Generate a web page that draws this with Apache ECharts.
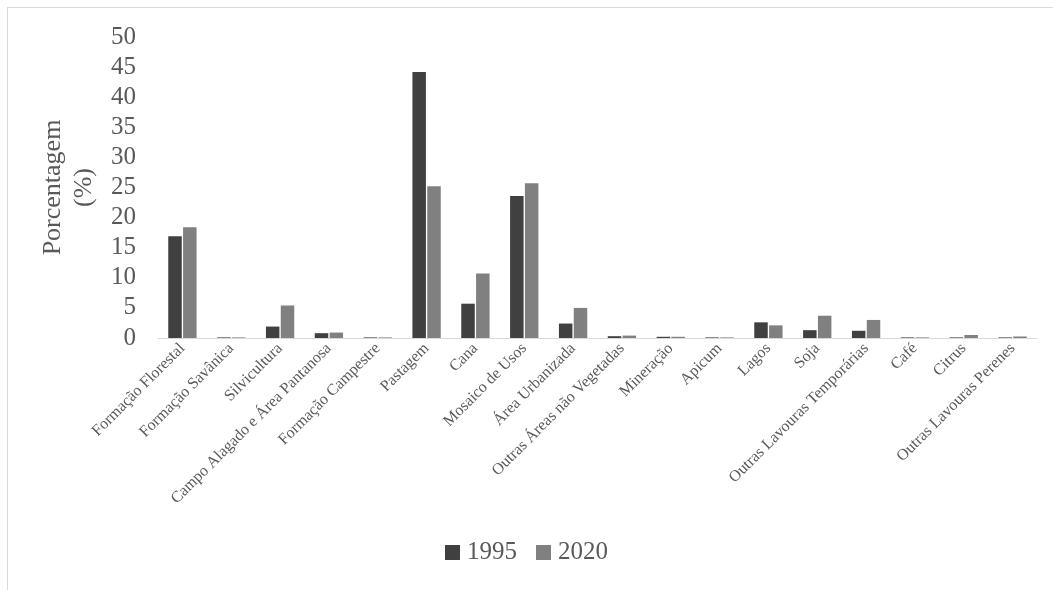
<!DOCTYPE html>
<html>
<head>
<meta charset="utf-8">
<script src="https://cdn.jsdelivr.net/npm/echarts@6/dist/echarts.min.js"></script>
<style>
  html, body { margin: 0; padding: 0; background: #fff; }
  #frame { position: absolute; left: 7px; top: 7px; width: 1060px; height: 600px; border: 1px solid #d9d9d9; box-sizing: border-box; }
  #main { width: 1053px; height: 590px; position: absolute; left: 0; top: 0; }
</style>
</head>
<body>
<div id="frame"></div>
<div id="main"></div>
<script>
// categorias (uso do solo)
var categorias = [
  'Formação Florestal', 'Formação Savânica', 'Silvicultura',
  'Campo Alagado e Área Pantanosa', 'Formação Campestre', 'Pastagem',
  'Cana', 'Mosaico de Usos', 'Área Urbanizada', 'Outras Áreas não Vegetadas',
  'Mineração', 'Apicum', 'Lagos', 'Soja', 'Outras Lavouras Temporárias',
  'Café', 'Citrus', 'Outras Lavouras Perenes'
];
// porcentagem 1995
var v1995 = [16.9, 0.1, 1.9, 0.8, 0.1, 44.2, 5.7, 23.6, 2.4, 0.3, 0.2, 0.1, 2.6, 1.3, 1.2, 0.1, 0.1, 0.1];
// porcentagem 2020
var v2020 = [18.4, 0.1, 5.4, 0.9, 0.1, 25.2, 10.7, 25.7, 5.0, 0.4, 0.2, 0.1, 2.1, 3.7, 3.0, 0.1, 0.5, 0.25];

var chart = echarts.init(document.getElementById('main'));
var fonte = '"Liberation Serif", "Times New Roman", serif';

var option = {
  animation: false,
  backgroundColor: 'transparent',
  color: ['#404040', '#808080'],
  legend: {
    data: ['1995', '2020'],
    bottom: 20,
    left: 'center',
    icon: 'rect',
    itemWidth: 15,
    itemHeight: 15,
    itemGap: 19,
    textStyle: { color: '#595959', fontFamily: fonte, fontSize: 25, padding: [0, 0, 0, 2] }
  },
  grid: { left: 158, right: 16, top: 37, bottom: 252, containLabel: false },
  xAxis: {
    type: 'category',
    data: categorias,
    axisLine: { lineStyle: { color: '#d9d9d9', width: 1 } },
    axisTick: { show: false },
    axisLabel: {
      interval: 0,
      rotate: 45,
      color: '#595959',
      fontFamily: fonte,
      fontSize: 16,
      margin: 8
    }
  },
  yAxis: {
    type: 'value',
    min: 0,
    max: 50,
    interval: 5,
    name: 'Porcentagem\n(%)',
    nameLocation: 'middle',
    nameGap: 53,
    nameRotate: 90,
    nameTextStyle: { color: '#595959', fontFamily: fonte, fontSize: 26, lineHeight: 31 },
    axisLine: { show: false },
    axisTick: { show: false },
    splitLine: { show: false },
    axisLabel: { color: '#595959', fontFamily: fonte, fontSize: 25, margin: 22 }
  },
  series: [
    { name: '1995', type: 'bar', data: v1995, barGap: '10%', barCategoryGap: '42%' },
    { name: '2020', type: 'bar', data: v2020, barGap: '10%', barCategoryGap: '42%' }
  ]
};
chart.setOption(option);
</script>
</body>
</html>
